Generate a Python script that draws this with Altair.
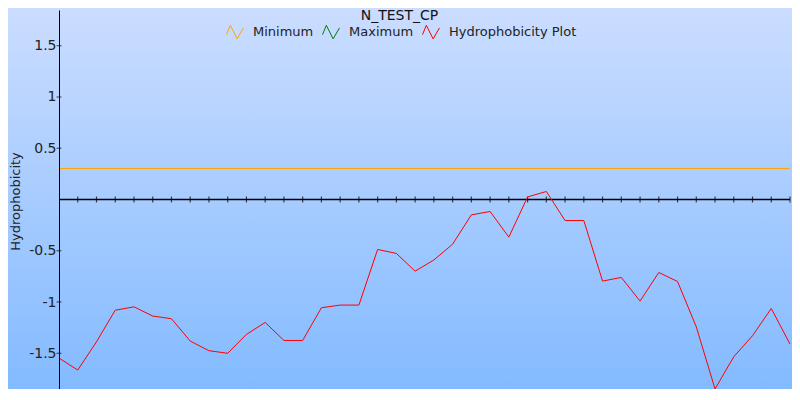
import altair as alt
import pandas as pd

# ---- data ----
title_text = "N_TEST_CP"
series_names = ["Minimum", "Maximum", "Hydrophobicity Plot"]
series_colors = ["#ffa500", "#008000", "#ff0000"]

positions = [0, 1, 2, 3, 4, 5, 6, 7, 8, 9, 10, 11, 12, 13, 14, 15, 16, 17, 18, 19,
             20, 21, 22, 23, 24, 25, 26, 27, 28, 29, 30, 31, 32, 33, 34, 35, 36, 37, 38, 39]
hydro = [-1.547, -1.664, -1.388, -1.08, -1.047, -1.137, -1.163, -1.381, -1.475, -1.50,
         -1.316, -1.199, -1.375, -1.375, -1.056, -1.03, -1.03, -0.487, -0.526, -0.699,
         -0.59, -0.436, -0.15, -0.117, -0.367, 0.025, 0.078, -0.205, -0.205, -0.796,
         -0.76, -0.991, -0.712, -0.80, -1.242, -1.848, -1.534, -1.329, -1.063, -1.41]
minimum_value = [0.302]
x_tick_positions = [1, 2, 3, 4, 5, 6, 7, 8, 9, 10, 11, 12, 13, 14, 15, 16, 17, 18, 19, 20,
                    21, 22, 23, 24, 25, 26, 27, 28, 29, 30, 31, 32, 33, 34, 35, 36, 37, 38, 39]
y_tick_values = [-1.5, -1, -0.5, 0.5, 1, 1.5]

W, H = 731, 379
PAD = {"left": 51, "top": 2, "right": 2, "bottom": 0}
FONT = "DejaVu Sans"

line_df = pd.DataFrame({"x": positions, "y": hydro, "series": "Hydrophobicity Plot"})
min_df = pd.DataFrame({"y": minimum_value, "series": ["Minimum"]})
xt_df = pd.DataFrame({"x": x_tick_positions, "y": 0})
yt_df = pd.DataFrame({"y": y_tick_values, "x": 0})

xscale = alt.Scale(domain=[0, 39], nice=False, zero=False)
yscale = alt.Scale(domain=[-1.8485, 1.8485], nice=False, zero=False)

y_axis = alt.Axis(
    values=y_tick_values, ticks=False, grid=False, domainColor="black", domainWidth=1,
    labelPadding=3, labelFontSize=14, labelFont=FONT, labelColor="#222222",
    labelExpr="'' + datum.value",
    title="Hydrophobicity", titleFont=FONT, titleFontSize=13, titleFontWeight="normal",
    titleColor="#222222", titleAngle=-90, titleBaseline="bottom", titleAlign="center",
    titleX=-37, titleY=191, zindex=2,
)

zig = "M-1,0.3L-0.55,-0.8L0.25,0.8L1,-0.5"
color_enc = alt.Color(
    "series:N",
    scale=alt.Scale(domain=series_names, range=series_colors),
    legend=alt.Legend(
        orient="none", legendX=167, legendY=13, direction="horizontal", title=None,
        symbolType=zig, symbolSize=289, symbolStrokeWidth=1, symbolFillColor="transparent",
        labelFontSize=13, labelFont=FONT, labelColor="#222222", labelOffset=9,
        columnPadding=6, padding=0,
    ),
)

bg = alt.Chart(pd.DataFrame({"a": [0]})).mark_rect(
    color=alt.LinearGradient(
        gradient="linear",
        stops=[alt.GradientStop(color="#cbddff", offset=0),
               alt.GradientStop(color="#82baff", offset=1)],
        x1=0, x2=0, y1=0, y2=1,
    )
).encode(
    x=alt.value(-PAD["left"]), x2=alt.value(W + PAD["right"]),
    y=alt.value(-PAD["top"]), y2=alt.value(H + 5),
)

zero_rule = alt.Chart(pd.DataFrame({"y": [0]})).mark_rule(color="black", strokeWidth=1.5).encode(
    y=alt.Y("y:Q", scale=yscale, axis=y_axis)
)

x_ticks = alt.Chart(xt_df).mark_tick(orient="vertical", color="black", size=6, thickness=1.2).encode(
    x=alt.X("x:Q", scale=xscale, axis=None),
    y=alt.Y("y:Q", scale=yscale, axis=y_axis),
)

y_ticks = alt.Chart(yt_df).mark_tick(orient="horizontal", color="black", size=5, thickness=1).encode(
    y=alt.Y("y:Q", scale=yscale, axis=y_axis),
    x=alt.X("x:Q", scale=xscale, axis=None),
)

min_rule = alt.Chart(min_df).mark_rule(strokeWidth=1).encode(
    y=alt.Y("y:Q", scale=yscale, axis=y_axis),
    color=color_enc,
)

line = alt.Chart(line_df).mark_line(strokeWidth=1).encode(
    x=alt.X("x:Q", scale=xscale, axis=None),
    y=alt.Y("y:Q", scale=yscale, axis=y_axis),
    color=color_enc,
)

title = alt.Chart(pd.DataFrame({"t": [title_text]})).mark_text(
    fontSize=14, font=FONT, color="#111111", baseline="top", align="center"
).encode(text="t:N", x=alt.value(340.5), y=alt.value(-1))

chart = alt.layer(bg, zero_rule, x_ticks, y_ticks, min_rule, line, title).properties(
    width=W, height=H,
    autosize=alt.AutoSizeParams(type="none"),
    padding=PAD,
    background="#aacbff",
).configure_view(stroke=None)

chart.save("out.html", embed_options={"renderer": "svg", "actions": False})
